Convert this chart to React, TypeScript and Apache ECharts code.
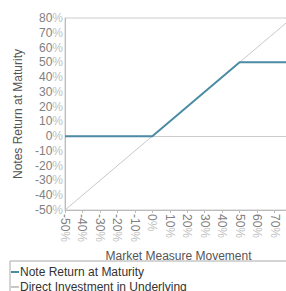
import React, { useEffect, useRef } from "react";
import * as echarts from "echarts";

const xTicks = [-50, -40, -30, -20, -10, 0, 10, 20, 30, 40, 50, 60, 70, 80];
const noteReturn: [number, number][] = [[-50, 0], [0, 0], [50, 50], [80, 50]];
const directInvestment: [number, number][] = [[-50, -50], [80, 80]];
const seriesNames = ["Note Return at Maturity", "Direct Investment in Underlying"];

const FONT = "Liberation Sans";

export default function App() {
  const ref = useRef<HTMLDivElement>(null);
  useEffect(() => {
    if (!ref.current) return;
    const chart = echarts.init(ref.current, null, { renderer: "svg" });
    const rich = {
      n: { color: "#808080", fontSize: 12, fontFamily: FONT },
      p: { color: "#c0c0c0", fontSize: 12, fontFamily: FONT },
    };
    const fmt = (v: number) => `{n|${v}}{p|%}`;
    const legendBase = {
      orient: "vertical",
      left: 11,
      icon: "rect",
      itemWidth: 8,
      itemHeight: 2,
      padding: 0,
      textStyle: { color: "#333333", fontSize: 12, fontFamily: FONT, padding: [0, 0, 0, -4] },
    };
    chart.setOption({
      animation: false,
      textStyle: { fontFamily: FONT },
      grid: {
        left: 65,
        top: 18,
        right: 8,
        bottom: 81,
        show: true,
        borderColor: "#cccccc",
        borderWidth: 1,
      },
      xAxis: {
        type: "value",
        min: xTicks[0],
        max: xTicks[xTicks.length - 1],
        interval: 10,
        name: "Market Measure Movement",
        nameLocation: "middle",
        nameGap: 36,
        nameTextStyle: { color: "#555555", fontSize: 12, fontFamily: FONT },
        axisLine: { show: true, onZero: false, lineStyle: { color: "#bbbbbb" } },
        axisTick: { show: true, length: 3, lineStyle: { color: "#bbbbbb" } },
        axisLabel: { rotate: -90, margin: 4, formatter: fmt, rich },
        splitLine: { show: false },
      },
      yAxis: {
        type: "value",
        min: -50,
        max: 80,
        interval: 10,
        name: "Notes Return at Maturity",
        nameLocation: "middle",
        nameRotate: 90,
        nameGap: 33,
        nameTextStyle: { color: "#555555", fontSize: 12, fontFamily: FONT },
        axisLine: { show: true, onZero: false, lineStyle: { color: "#bbbbbb" } },
        axisTick: { show: false },
        axisLabel: { margin: 2, formatter: fmt, rich },
        splitLine: { show: false },
      },
      legend: [
        { ...legendBase, top: 266, data: [seriesNames[0]] },
        { ...legendBase, top: 281, data: [seriesNames[1]] },
      ],
      graphic: [
        {
          type: "rect",
          shape: { x: 10, y: 261, width: 300, height: 60 },
          style: { fill: "none", stroke: "#aaaaaa", lineWidth: 1 },
          silent: true,
        },
      ],
      series: [
        {
          name: seriesNames[0],
          type: "line",
          data: noteReturn,
          symbol: "none",
          z: 5,
          lineStyle: { color: "#4b8ba5", width: 2 },
          itemStyle: { color: "#4b8ba5" },
        },
        {
          name: seriesNames[1],
          type: "line",
          data: directInvestment,
          symbol: "none",
          z: 3,
          lineStyle: { color: "#c8c8c8", width: 1 },
          itemStyle: { color: "#c8c8c8" },
          markLine: {
            silent: true,
            symbol: "none",
            label: { show: false },
            lineStyle: { color: "#cccccc", type: "solid", width: 1 },
            data: [{ yAxis: 0 }],
          },
        },
      ],
    });
    return () => chart.dispose();
  }, []);
  return (
    <div style={{ position: "fixed", left: 0, top: 0, width: 286, height: 291, overflow: "hidden", background: "#fff" }}>
      <div ref={ref} style={{ width: 300, height: 291 }} />
    </div>
  );
}
